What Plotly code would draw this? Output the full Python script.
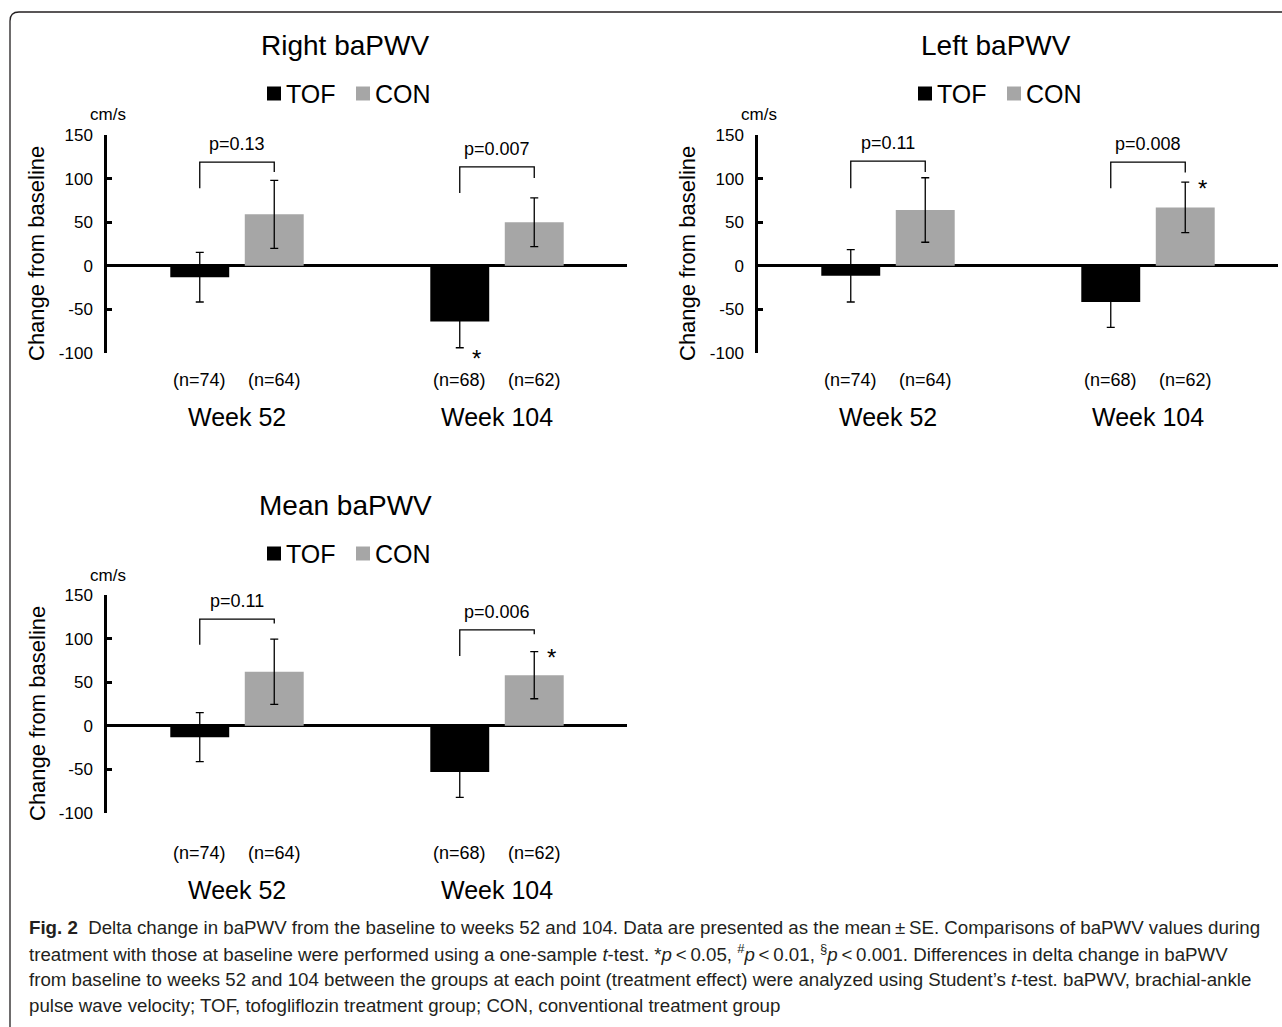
import plotly.graph_objects as go

W, H = 1282, 1027

# ---------------- data ----------------
groups = ["Week 52", "Week 104"]
series_names = ["TOF", "CON"]
n_tof = [74, 68]
n_con = [64, 62]

right_tof = [-13, -64]
right_tof_se = [28.5, 30]
right_con = [59, 50]
right_con_se = [39, 28]

left_tof = [-11.5, -41.5]
left_tof_se = [30, 29]
left_con = [64, 67]
left_con_se = [37, 29]

mean_tof = [-13, -53]
mean_tof_se = [28, 29]
mean_con = [62, 58]
mean_con_se = [37.5, 27]

right_p = ["p=0.13", "p=0.007"]
left_p = ["p=0.11", "p=0.008"]
mean_p = ["p=0.11", "p=0.006"]

y_tick_vals = [-100, -50, 0, 50, 100, 150]
y_tick_text = ["-100", "-50", "0", "50", "100", "150"]

caption_lines = [
    "<b>Fig. 2</b>  Delta change in baPWV from the baseline to weeks 52 and 104. Data are presented as the mean\u2009\u00b1\u2009SE. Comparisons of baPWV values during",
    "treatment with those at baseline were performed using a one-sample <i>t</i>-test. *<i>p</i>\u2009<\u20090.05, <sup>#</sup><i>p</i>\u2009<\u20090.01, <sup>\u00a7</sup><i>p</i>\u2009<\u20090.001. Differences in delta change in baPWV",
    "from baseline to weeks 52 and 104 between the groups at each point (treatment effect) were analyzed using Student\u2019s <i>t</i>-test. baPWV, brachial-ankle",
    "pulse wave velocity; TOF, tofogliflozin treatment group; CON, conventional treatment group",
]

# ---------------- styling / layout options ----------------
TOF_COLOR = "#000000"
CON_COLOR = "#a6a6a6"
FONT = "Liberation Sans, Arial, sans-serif"
CAP_FONT = "Liberation Sans, Arial, sans-serif"
BARGAP = 0.427
BARGROUPGAP = 0.209
OFF = (1 - BARGAP) / 4  # bar centre offset from group centre (x units)

def X(px):
    return px / W

def Y(py):
    return 1 - py / H

panels = [
    dict(title="Right baPWV", xa="x", ya="y", ax_px=107, right_px=627, top_px=135, bot_px=353,
         n_px=380, week_px=417,
         tof=right_tof, tof_se=right_tof_se, con=right_con, con_se=right_con_se, p=right_p,
         brackets=[(119, 89, 107.6), (113.4, 83.4, 100.7)],
         star=("TOF", 1, "bottom")),
    dict(title="Left baPWV", xa="x2", ya="y2", ax_px=758, right_px=1278, top_px=135, bot_px=353,
         n_px=380, week_px=417,
         tof=left_tof, tof_se=left_tof_se, con=left_con, con_se=left_con_se, p=left_p,
         brackets=[(120, 89, 107.6), (119, 89, 107)],
         star=("CON", 1, "top")),
    dict(title="Mean baPWV", xa="x3", ya="y3", ax_px=107, right_px=627, top_px=595, bot_px=813,
         n_px=853, week_px=890,
         tof=mean_tof, tof_se=mean_tof_se, con=mean_con, con_se=mean_con_se, p=mean_p,
         brackets=[(122.3, 93, 117.3), (110, 80, 105)],
         star=("CON", 1, "top")),
]

fig = go.Figure()
annotations = []
shapes = []

xs = list(range(len(groups)))

for i, pn in enumerate(panels):
    sfx = "" if i == 0 else str(i + 1)
    xa, ya = pn["xa"], pn["ya"]
    err_style = dict(type="data", color="black", thickness=1.3, width=4, visible=True)
    fig.add_trace(go.Bar(x=xs, y=pn["tof"], name=series_names[0], marker=dict(color=TOF_COLOR, line=dict(width=0)),
                         error_y=dict(array=pn["tof_se"], **err_style), xaxis=xa, yaxis=ya, showlegend=False))
    fig.add_trace(go.Bar(x=xs, y=pn["con"], name=series_names[1], marker=dict(color=CON_COLOR, line=dict(width=0)),
                         error_y=dict(array=pn["con_se"], **err_style), xaxis=xa, yaxis=ya, showlegend=False))

    fig.layout["xaxis" + sfx] = dict(domain=[X(pn["ax_px"]), X(pn["right_px"])], range=[-0.5, 1.5],
                                     visible=False, fixedrange=True, anchor=ya, automargin=False)
    fig.layout["yaxis" + sfx] = dict(domain=[Y(pn["bot_px"]), Y(pn["top_px"])], range=[-100, 150],
                                     anchor=xa, showline=True, linecolor="black", linewidth=2.5,
                                     ticks="inside", ticklen=5, tickwidth=2.5, tickcolor="black",
                                     tickvals=y_tick_vals, ticktext=y_tick_text,
                                     tickfont=dict(size=17, family=FONT, color="black"),
                                     ticklabelstandoff=8, automargin=False,
                                     showgrid=False, zeroline=True, zerolinecolor="black",
                                     zerolinewidth=2.5, fixedrange=True)

    ax = pn["ax_px"]
    # panel title
    annotations.append(dict(text=pn["title"], x=X(ax + 238), y=Y(pn["top_px"] - 90), xref="paper", yref="paper",
                            showarrow=False, font=dict(size=28), xanchor="center", yanchor="middle"))
    # custom legend
    ly = pn["top_px"] - 41.5
    lx = ax + 160
    for k, (nm, col) in enumerate(zip(series_names, [TOF_COLOR, CON_COLOR])):
        sx = lx + k * 89
        shapes.append(dict(type="rect", xref="paper", yref="paper", x0=X(sx), x1=X(sx + 14),
                           y0=Y(ly + 7), y1=Y(ly - 7), fillcolor=col, line=dict(width=0)))
        annotations.append(dict(text=nm, x=X(sx + 17), y=Y(ly), xref="paper", yref="paper", showarrow=False,
                                font=dict(size=25), xanchor="left", yanchor="middle"))
    # unit label
    annotations.append(dict(text="cm/s", x=X(ax + 1), y=Y(pn["top_px"] - 20), xref="paper", yref="paper",
                            showarrow=False, font=dict(size=17), xanchor="center", yanchor="middle"))
    # y axis title
    annotations.append(dict(text="Change from baseline", x=X(ax - 70), y=Y((pn["top_px"] + pn["bot_px"]) / 2 + 10),
                            xref="paper", yref="paper", showarrow=False, textangle=-90,
                            font=dict(size=22), xanchor="center", yanchor="middle"))
    # n labels and group labels
    for g in range(len(groups)):
        for k, nn in enumerate([n_tof[g], n_con[g]]):
            annotations.append(dict(text=f"(n={nn})", x=g + (-OFF if k == 0 else OFF), y=Y(pn["n_px"]),
                                    xref=xa, yref="paper", showarrow=False, font=dict(size=18),
                                    xanchor="center", yanchor="middle"))
        annotations.append(dict(text=groups[g], x=g, y=Y(pn["week_px"]), xref=xa, yref="paper",
                                showarrow=False, font=dict(size=25), xanchor="center", yanchor="middle"))
        # significance bracket between groups
        top, legl, legr = pn["brackets"][g]
        x0, x1 = g - OFF, g + OFF
        shapes.append(dict(type="path", xref=xa, yref=ya,
                           path=f"M {x0},{legl} L {x0},{top} L {x1},{top} L {x1},{legr}",
                           line=dict(color="black", width=1.3)))
        annotations.append(dict(text=pn["p"][g], x=g, y=top + 21, xref=xa, yref=ya, showarrow=False,
                                font=dict(size=18), xanchor="center", yanchor="middle"))
    # asterisk
    ser, g, end = pn["star"]
    if ser == "TOF":
        v, se, xc = pn["tof"][g], pn["tof_se"][g], g - OFF
    else:
        v, se, xc = pn["con"][g], pn["con_se"][g], g + OFF
    yv = v + se if end == "top" else v - se
    annotations.append(dict(text="*", x=xc, y=yv, xref=xa, yref=ya, showarrow=False, xshift=17,
                            yshift=(-6 if end == "top" else -11), font=dict(size=24),
                            xanchor="center", yanchor="middle"))

# caption
for j, line in enumerate(caption_lines):
    annotations.append(dict(text=line, x=X(27), y=Y(927 + 26 * j), xref="paper", yref="paper",
                            showarrow=False, xanchor="left", yanchor="middle", align="left",
                            font=dict(size=18.7, family=CAP_FONT, color="#231f20")))

# rounded frame
r = 9
fx0, fy0, fx1, fy1 = 10, 12, 1300, 1045
frame = (f"M {X(fx0)},{Y(fy1)} L {X(fx0)},{Y(fy0 + r)} Q {X(fx0)},{Y(fy0)} {X(fx0 + r)},{Y(fy0)} "
         f"L {X(fx1)},{Y(fy0)}")
shapes.append(dict(type="path", xref="paper", yref="paper", path=frame, line=dict(color="#231f20", width=1.3)))

fig.update_layout(
    template="none",
    width=W, height=H, margin=dict(l=0, r=0, t=0, b=0, pad=0, autoexpand=False),
    paper_bgcolor="white", plot_bgcolor="white",
    barmode="group", bargap=BARGAP, bargroupgap=BARGROUPGAP,
    showlegend=False,
    font=dict(family=FONT, color="black"),
    annotations=annotations, shapes=shapes,
)

page_fix = ("document.documentElement.style.margin='0';document.body.style.margin='0';"
            "document.body.style.overflow='hidden';"
            "var d=document.getElementById('{plot_id}');"
            "d.style.position='fixed';d.style.left='0px';d.style.top='0px';")
fig.write_html("out.html", config={"displayModeBar": False}, post_script=page_fix)
